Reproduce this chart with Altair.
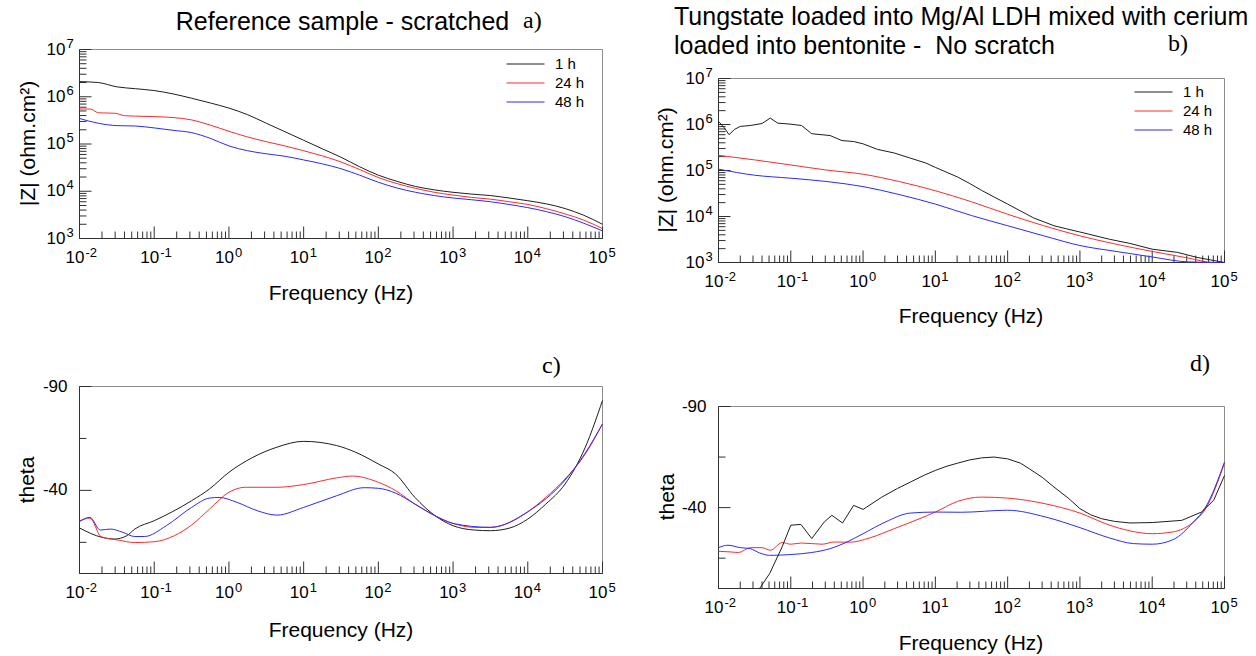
import altair as alt
import pandas as pd

# ---------------- data ----------------
SERIES = ["1 h", "24 h", "48 h"]
COLORS = ["#1e1e1e", "#ff2a2a", "#2a2aff"]

# panel a : |Z| reference sample - scratched
A_F_GRID = [0.01, 0.0178, 0.0316, 0.0562, 0.1, 0.178, 0.316, 0.562, 1, 1.78, 3.16, 5.62,
            10, 17.8, 31.6, 56.2, 100, 178, 316, 562, 1000, 1780, 3160, 5620,
            1e4, 17800, 31600, 56200, 1e5]
A_Z_1H = [2.09e6, 2.0e6, 1.62e6, 1.48e6, 1.35e6, 1.15e6, 9.3e5, 7.4e5, 5.75e5, 4.17e5, 2.75e5, 1.82e5,
          1.2e5, 7.9e4, 5.25e4, 3.3e4, 2.19e4, 1.62e4, 1.26e4, 1.07e4, 9.5e3, 8.7e3, 8.1e3, 7.2e3,
          6.3e3, 5.4e3, 4.3e3, 3.1e3, 2.0e3]
A_F_24H = [0.01, 0.014, 0.018, 0.03, 0.04, 0.0562, 0.1, 0.178, 0.316, 0.562, 1, 1.78, 3.16, 5.62,
           10, 17.8, 31.6, 56.2, 100, 178, 316, 562, 1000, 1780, 3160, 5620,
           1e4, 17800, 31600, 56200, 1e5]
A_Z_24H = [5.5e5, 5.5e5, 4.57e5, 4.47e5, 3.98e5, 3.89e5, 3.8e5, 3.63e5, 3.24e5, 2.51e5, 1.86e5, 1.41e5,
           1.12e5, 9.1e4, 7.2e4, 5.6e4, 4.17e4, 2.88e4, 1.95e4, 1.45e4, 1.15e4, 9.5e3, 8.3e3, 7.4e3,
           6.8e3, 6.0e3, 5.25e3, 4.27e3, 3.31e3, 2.45e3, 1.62e3]
A_Z_48H = [3.47e5, 2.75e5, 2.45e5, 2.4e5, 2.19e5, 1.95e5, 1.74e5, 1.32e5, 9.1e4, 7.2e4, 6.2e4, 5.5e4,
           4.6e4, 3.8e4, 3.0e4, 2.19e4, 1.55e4, 1.17e4, 9.5e3, 8.1e3, 7.2e3, 6.6e3, 6.0e3, 5.25e3,
           4.5e3, 3.7e3, 2.9e3, 2.1e3, 1.45e3]

# panel b : |Z| tungstate LDH + cerium bentonite - no scratch
B_F_1H = [0.01, 0.012, 0.014, 0.0166, 0.02, 0.0275, 0.04, 0.052, 0.066, 0.098, 0.141, 0.195,
          0.35, 0.51, 0.74, 1.0, 1.58, 2.7, 4.5, 7.4, 10, 20.4, 30, 43.6, 65, 100, 229, 320, 437,
          650, 1000, 2570, 4900, 1e4, 22400, 41700, 1e5]
B_Z_1H = [1.17e6, 8.5e5, 6.0e5, 7.8e5, 9.1e5, 9.5e5, 1.05e6, 1.38e6, 1.07e6, 1.02e6, 9.5e5, 6.3e5,
          5.75e5, 4.47e5, 4.27e5, 3.8e5, 2.88e5, 2.4e5, 1.86e5, 1.45e5, 1.17e5, 7.2e4, 5.2e4, 3.7e4,
          2.65e4, 1.86e4, 9.3e3, 7.6e3, 6.3e3, 5.4e3, 4.6e3, 3.2e3, 2.6e3, 1.95e3, 1.66e3, 1.29e3, 1.0e3]
B_F_24H = [0.01, 0.0316, 0.1, 0.316, 1, 3.16, 10, 31.6, 100, 316, 1000, 3160, 1e4, 31600, 70000, 1e5]
B_Z_24H = [2.14e5, 1.7e5, 1.32e5, 1.02e5, 8.3e4, 5.75e4, 3.63e4, 2.09e4, 1.12e4, 6.3e3, 3.8e3, 2.5e3,
           1.74e3, 1.25e3, 1.0e3, 1.0e3]
B_F_48H = [0.01, 0.0316, 0.1, 0.316, 1, 3.16, 10, 31.6, 100, 316, 1000, 3160, 1e4, 31600, 1e5]
B_Z_48H = [1.07e5, 7.9e4, 6.8e4, 5.75e4, 4.47e4, 3.0e4, 1.86e4, 1.05e4, 6.3e3, 3.8e3, 2.34e3, 1.74e3,
           1.32e3, 1.03e3, 1.0e3]

# panel c : theta reference sample
C_F_1H = [0.01, 0.02, 0.0295, 0.043, 0.055, 0.1, 0.316, 0.55, 1, 2.09, 4.4, 10, 27.5, 50, 100, 170,
          309, 575, 1000, 1950, 3160, 5750, 1e4, 17400, 31600, 58900, 1e5]
C_T_1H = [-21.9, -17.4, -16.6, -18.2, -21.4, -25.4, -35.0, -40.7, -48.7, -55.9, -60.8, -63.6, -61.6,
          -58.3, -52.7, -47.9, -36.6, -27.8, -23.0, -20.9, -20.6, -21.9, -26.2, -33.4, -43.1, -60.8, -83.3]
C_F_24H = [0.01, 0.0138, 0.0195, 0.033, 0.055, 0.1, 0.186, 0.316, 0.55, 1, 1.66, 4.4, 10, 27.5, 44.7,
           100, 170, 309, 575, 1000, 1950, 3160, 5750, 1e4, 17400, 31600, 58900, 1e5]
C_T_24H = [-25.1, -26.7, -17.7, -16.1, -14.9, -15.3, -18.2, -23.3, -31.0, -39.1, -41.5, -41.5, -42.8,
           -46.0, -46.9, -43.9, -39.9, -33.4, -27.8, -24.1, -22.2, -22.2, -24.6, -29.7, -36.6, -45.5,
           -57.5, -72.0]
C_F_48H = [0.01, 0.0138, 0.019, 0.026, 0.038, 0.055, 0.074, 0.145, 0.316, 0.55, 0.74, 1.29, 2.4, 4.4,
           10, 27.5, 64.6, 100, 170, 309, 575, 1000, 3160, 1e4, 31600, 58900, 1e5]
C_T_48H = [-25.1, -27.0, -20.9, -21.4, -19.8, -17.8, -17.8, -23.0, -31.8, -36.3, -36.6, -34.2, -30.2,
           -28.1, -31.8, -37.4, -41.3, -41.0, -38.7, -33.4, -27.8, -24.1, -22.2, -29.7, -45.0, -58.0, -72.0]

# panel d : theta tungstate LDH + cerium bentonite
D_F_1H = [0.037, 0.051, 0.076, 0.1, 0.138, 0.195, 0.29, 0.37, 0.52, 0.74, 1.0, 1.82, 3.0, 4.5, 7.0, 10,
          14.5, 20.4, 30, 43.6, 65, 100, 150, 200, 300, 437, 700, 1000, 1400, 2000, 3000, 4900, 1e4,
          25700, 47900, 70800, 1e5]
D_T_1H = [0, -7.4, -20.6, -31.3, -31.7, -24.7, -32.9, -36.2, -32.4, -41.1, -39.1, -45.2, -49.5, -52.6,
          -56.0, -58.4, -60.5, -62.0, -63.6, -64.6, -65.0, -64.1, -62.0, -59.2, -55.0, -50.2, -44.5,
          -39.5, -36.5, -34.5, -33.2, -32.4, -32.6, -33.7, -37.8, -43.6, -55.9]
D_F_24H = [0.01, 0.0145, 0.019, 0.0275, 0.04, 0.052, 0.076, 0.1, 0.141, 0.27, 0.4, 0.66, 1.23, 2.7,
           5.75, 10, 20.4, 43.6, 100, 331, 1000, 2570, 4900, 1e4, 19500, 37200, 55000, 1e5]
D_T_24H = [-18.4, -18.1, -17.8, -20.2, -20.2, -18.9, -22.7, -21.9, -22.5, -21.9, -23.0, -22.9, -25.0,
           -29.6, -34.2, -37.8, -43.1, -45.2, -44.7, -41.9, -37.3, -31.3, -28.5, -27.1, -28.0, -32.9,
           -39.5, -62.0]
D_F_48H = [0.01, 0.0135, 0.02, 0.0275, 0.037, 0.051, 0.1, 0.195, 0.35, 0.575, 1.0, 2.04, 4.5, 10, 22.9,
           100, 331, 1000, 2570, 5500, 1e4, 19500, 37200, 55000, 1e5]
D_T_48H = [-20.2, -21.4, -20.2, -19.7, -17.6, -16.4, -16.8, -17.8, -19.7, -22.7, -27.1, -32.9, -37.3,
           -37.8, -37.7, -38.7, -35.4, -30.1, -25.0, -22.2, -21.9, -24.2, -32.9, -40.3, -62.5]

# axes
F_MIN, F_MAX = 0.01, 1e5
Z_MIN, Z_MAX = 1e3, 1e7
TH_TOP, TH_BOTTOM = -90, 0
X_DECADES = [0.01, 0.1, 1, 10, 100, 1000, 1e4, 1e5]
X_EXP = ["-2", "-1", "0", "1", "2", "3", "4", "5"]
X_MINOR = [m * 10.0 ** e for e in range(-2, 5) for m in range(2, 10)]
Z_DECADES = [1e3, 1e4, 1e5, 1e6, 1e7]
Z_EXP = ["3", "4", "5", "6", "7"]
Z_MINOR = [m * 10.0 ** e for e in range(3, 7) for m in range(2, 10)]
TH_MAJOR = [-90, -40]
TH_MAJOR_TXT = ["-90", "-40"]
TH_MINOR = [-65, -15]

FONT = "Liberation Sans"
SERIF = "Liberation Serif"
DARK = "#303030"
FRAME = "#8c8c8c"


def long_df(parts):
    rows = []
    for name, fs, vs in parts:
        for f, v in zip(fs, vs):
            rows.append({"series": name, "f": f, "v": v})
    return pd.DataFrame(rows)


def panel(df, box, kind, legend_pos, jagged_black):
    x0, x1, yt, yb = box
    xs = alt.Scale(type="log", domain=[F_MIN, F_MAX], range=[x0, x1])
    if kind == "z":
        ys = alt.Scale(type="log", domain=[Z_MIN, Z_MAX], range=[yb, yt])
        ybot, ytop = Z_MIN, Z_MAX
    else:
        ys = alt.Scale(type="linear", domain=[TH_TOP, TH_BOTTOM], range=[yt, yb], nice=False, zero=False)
        ybot, ytop = TH_BOTTOM, TH_TOP

    def xd(v):
        return alt.XDatum(v, type="quantitative", scale=xs, axis=None)

    def yd(v):
        return alt.YDatum(v, type="quantitative", scale=ys, axis=None)

    def xf(f):
        return alt.X(f, type="quantitative", scale=xs, axis=None)

    def yf(f):
        return alt.Y(f, type="quantitative", scale=ys, axis=None)

    one = pd.DataFrame({"k": [0]})
    layers = []
    layers.append(alt.Chart(one).mark_rect(fillOpacity=0, stroke=FRAME, strokeWidth=1).encode(
        x=xd(F_MIN), x2=alt.X2Datum(F_MAX), y=yd(ybot), y2=alt.Y2Datum(ytop)))
    layers.append(alt.Chart(one).mark_rule(color=DARK, strokeWidth=1).encode(
        x=xd(F_MIN), x2=alt.X2Datum(F_MAX), y=yd(ybot)))
    layers.append(alt.Chart(one).mark_rule(color=DARK, strokeWidth=1).encode(
        x=xd(F_MIN), y=yd(ybot), y2=alt.Y2Datum(ytop)))
    # x ticks (inward)
    layers.append(alt.Chart(pd.DataFrame({"t": X_MINOR})).mark_rule(color=DARK, y2Offset=-7).encode(
        x=xf("t"), y=yd(ybot), y2=alt.Y2Datum(ybot)))
    layers.append(alt.Chart(pd.DataFrame({"t": X_DECADES})).mark_rule(color=DARK, y2Offset=-12).encode(
        x=xf("t"), y=yd(ybot), y2=alt.Y2Datum(ybot)))
    # x labels
    xlab = pd.DataFrame({"t": X_DECADES, "e": X_EXP})
    layers.append(alt.Chart(xlab).mark_text(text="10", align="right", baseline="middle", dx=5, dy=19,
                                            fontSize=17, font=FONT, color="black").encode(
        x=xf("t"), y=yd(ybot)))
    layers.append(alt.Chart(xlab).mark_text(align="left", baseline="middle", dx=6, dy=14,
                                            fontSize=13, font=FONT, color="black").encode(
        x=xf("t"), y=yd(ybot), text="e:N"))
    # y ticks and labels
    if kind == "z":
        ymin_t, ymaj_t = Z_MINOR, Z_DECADES
    else:
        ymin_t, ymaj_t = TH_MINOR, TH_MAJOR
    layers.append(alt.Chart(pd.DataFrame({"t": ymin_t})).mark_rule(color=DARK, x2Offset=7).encode(
        x=xd(F_MIN), x2=alt.X2Datum(F_MIN), y=yf("t")))
    layers.append(alt.Chart(pd.DataFrame({"t": ymaj_t})).mark_rule(color=DARK, x2Offset=12).encode(
        x=xd(F_MIN), x2=alt.X2Datum(F_MIN), y=yf("t")))
    if kind == "z":
        ylab = pd.DataFrame({"t": Z_DECADES, "e": Z_EXP})
        layers.append(alt.Chart(ylab).mark_text(text="10", align="right", baseline="middle", dx=-14,
                                                fontSize=17, font=FONT, color="black").encode(
            x=xd(F_MIN), y=yf("t")))
        layers.append(alt.Chart(ylab).mark_text(align="left", baseline="middle", dx=-13, dy=-6,
                                                fontSize=13, font=FONT, color="black").encode(
            x=xd(F_MIN), y=yf("t"), text="e:N"))
    else:
        ylab = pd.DataFrame({"t": TH_MAJOR, "s": TH_MAJOR_TXT})
        layers.append(alt.Chart(ylab).mark_text(align="right", baseline="middle", dx=-12,
                                                fontSize=17, font=FONT, color="black").encode(
            x=xd(F_MIN), y=yf("t"), text="s:N"))
    # data lines
    if legend_pos is None:
        leg = None
    else:
        leg = alt.Legend(orient="none", legendX=legend_pos[0], legendY=legend_pos[1], title=None,
                         direction="vertical", symbolType="stroke", symbolSize=1444,
                         symbolStrokeWidth=1, labelFont=FONT, labelFontSize=15, labelColor="black",
                         labelOffset=10, clipHeight=19, rowPadding=0, padding=0)
    color = alt.Color("series:N", scale=alt.Scale(domain=SERIES, range=COLORS), legend=leg)
    if jagged_black:
        layers.append(alt.Chart(df).transform_filter(alt.datum.series != SERIES[0]).mark_line(
            strokeWidth=1, interpolate="monotone").encode(x=xf("f"), y=yf("v"), color=color))
        layers.append(alt.Chart(df).transform_filter(alt.datum.series == SERIES[0]).mark_line(
            strokeWidth=1, interpolate="linear").encode(x=xf("f"), y=yf("v"), color=color))
    else:
        layers.append(alt.Chart(df).mark_line(strokeWidth=1, interpolate="monotone").encode(
            x=xf("f"), y=yf("v"), color=color))
    return alt.layer(*layers)


def text(t, x, y, size, font=FONT, angle=0, align="center"):
    return alt.Chart(pd.DataFrame({"t": [t]})).mark_text(
        fontSize=size, font=font, angle=angle, align=align, baseline="alphabetic", color="black"
    ).encode(x=alt.value(x), y=alt.value(y), text="t:N")


df_a = long_df([("1 h", A_F_GRID, A_Z_1H), ("24 h", A_F_24H, A_Z_24H), ("48 h", A_F_GRID, A_Z_48H)])
df_b = long_df([("1 h", B_F_1H, B_Z_1H), ("24 h", B_F_24H, B_Z_24H), ("48 h", B_F_48H, B_Z_48H)])
df_c = long_df([("1 h", C_F_1H, C_T_1H), ("24 h", C_F_24H, C_T_24H), ("48 h", C_F_48H, C_T_48H)])
df_d = long_df([("1 h", D_F_1H, D_T_1H), ("24 h", D_F_24H, D_T_24H), ("48 h", D_F_48H, D_T_48H)])

pa = panel(df_a, (79.5, 602.5, 49.5, 238.5), "z", (506, 54.5), False)
pb = panel(df_b, (718.5, 1224.5, 78.5, 262.5), "z", (1134, 82.5), True)
pc = panel(df_c, (79.5, 602.5, 386.5, 573.5), "theta", None, False)
pdd = panel(df_d, (718.5, 1224.5, 406.5, 588.5), "theta", None, True)

texts = [
    text("Reference sample - scratched", 342.5, 30, 25),
    text("a)", 523, 28, 24, font=SERIF, align="left"),
    text("Tungstate loaded into Mg/Al LDH mixed with cerium", 674, 25, 25, align="left"),
    text("loaded into bentonite -\u00a0 No scratch", 674, 54, 25, align="left"),
    text("b)", 1168, 51, 24, font=SERIF, align="left"),
    text("c)", 542, 373, 24, font=SERIF, align="left"),
    text("d)", 1190, 371, 24, font=SERIF, align="left"),
    text("Frequency (Hz)", 341, 300, 21),
    text("Frequency (Hz)", 971, 323, 21),
    text("Frequency (Hz)", 341, 637, 21),
    text("Frequency (Hz)", 971, 650, 21),
    text("|Z| (ohm.cm²)", 35, 143.5, 21, angle=270),
    text("|Z| (ohm.cm²)", 673, 170, 21, angle=270),
    text("theta", 34, 480, 21, angle=270),
    text("theta", 674, 497, 21, angle=270),
]

chart = alt.layer(pa, pb, pc, pdd, *texts).resolve_scale(
    x="independent", y="independent", color="independent"
).properties(
    width=1256, height=656, autosize=alt.AutoSizeParams(type="none"), padding=0
).configure_view(stroke=None)

chart.save("out.html", embed_options={"renderer": "svg", "actions": False})
